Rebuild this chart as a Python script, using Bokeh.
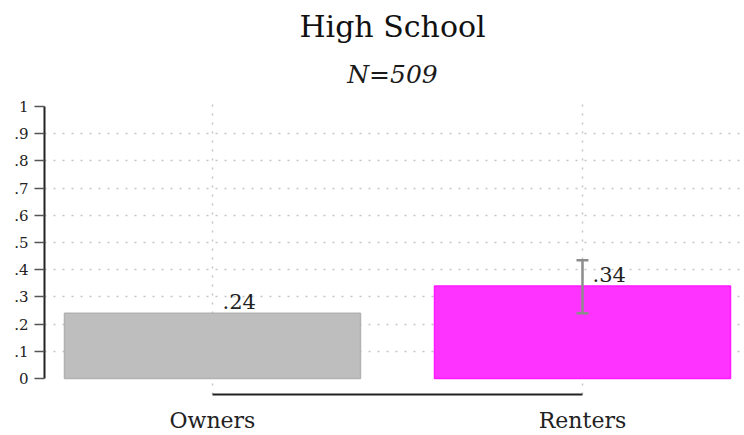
from bokeh.plotting import figure
from bokeh.models import (ColumnDataSource, FixedTicker, Title, Whisker, TeeHead,
                          Range1d, LabelSet)
from bokeh.core.properties import value
from bokeh.embed import file_html
from bokeh.resources import INLINE

# ---- data ----
categories = ["Owners", "Renters"]
xpos = [1, 2]
values = [0.24, 0.34]
bar_colors = ["#bebebe", "#ff33ff"]
bar_lines = ["#b2b2b2", "#ff1aff"]
ci_x = [2]
ci_lower = [0.24]
ci_upper = [0.435]
y_ticks = [0, 0.1, 0.2, 0.3, 0.4, 0.5, 0.6, 0.7, 0.8, 0.9, 1.0]
y_tick_labels = ["0", ".1", ".2", ".3", ".4", ".5", ".6", ".7", ".8", ".9", "1"]
title_text = "High School"
subtitle_text = "N=509"

FONT = "DejaVu Serif"

p = figure(width=742, height=435, output_backend="svg", toolbar_location=None,
           x_range=Range1d(0.546, 2.427), y_range=Range1d(-0.0586, 1.033),
           min_border_left=44, min_border_right=2, min_border_bottom=38,
           min_border_top=97, outline_line_color=None)
p.title = None

sub = Title(text=subtitle_text, align="center", text_font=FONT, text_font_size="25px",
            text_font_style="italic", text_color="#1a1a1a", standoff=17)
p.add_layout(sub, "above")
ttl = Title(text=title_text, align="center", text_font=FONT, text_font_size="30px",
            text_font_style="normal", text_color="#111111", standoff=12)
p.add_layout(ttl, "above")

src = ColumnDataSource(dict(x=xpos, top=values, color=bar_colors, line=bar_lines,
                            label=[("%.2f" % v).lstrip("0") for v in values]))
p.vbar(x="x", top="top", bottom=0, width=0.8, fill_color="color", line_color="line",
       line_width=1.5, source=src)

esrc = ColumnDataSource(dict(x=ci_x, lo=ci_lower, hi=ci_upper))
wh = Whisker(base="x", lower="lo", upper="hi", source=esrc, line_color="#8c8c8c",
             line_width=2.5, level="annotation",
             upper_head=TeeHead(size=12, line_color="#8c8c8c", line_width=2.5),
             lower_head=TeeHead(size=12, line_color="#8c8c8c", line_width=2.5))
p.add_layout(wh)

labels = LabelSet(x="x", y="top", text="label", source=src, x_offset=10, y_offset=4,
                  text_font=value(FONT), text_font_size=value("21px"),
                  text_color="#222222", text_align="left", text_baseline="bottom")
p.add_layout(labels)

# axes
ya = p.yaxis[0]
ya.ticker = FixedTicker(ticks=y_ticks)
ya.major_label_overrides = {t: l for t, l in zip(y_ticks, y_tick_labels)}
ya.bounds = (0, 1)
ya.major_tick_out = 10
ya.major_tick_in = 0
ya.minor_tick_out = 0
ya.minor_tick_in = 0
ya.axis_line_width = 2
ya.axis_line_color = "#222222"
ya.major_tick_line_color = "#555555"
ya.major_tick_line_width = 1.5
ya.major_label_text_font = FONT
ya.major_label_text_font_size = "15px"
ya.major_label_text_color = "#222222"
ya.major_label_standoff = 6

xa = p.xaxis[0]
xa.ticker = FixedTicker(ticks=xpos)
xa.major_label_overrides = {x: c for x, c in zip(xpos, categories)}
xa.bounds = (1, 2)
xa.major_tick_out = 0
xa.major_tick_in = 0
xa.minor_tick_out = 0
xa.minor_tick_in = 0
xa.axis_line_width = 2
xa.axis_line_color = "#222222"
xa.major_label_text_font = FONT
xa.major_label_text_font_size = "22px"
xa.major_label_text_color = "#222222"
xa.major_label_standoff = 13

p.ygrid[0].ticker = FixedTicker(ticks=y_ticks[1:-1])
p.ygrid[0].grid_line_color = "#c4c4c4"
p.ygrid[0].grid_line_dash = "2 7"
p.ygrid[0].grid_line_width = 1.5
p.xgrid[0].ticker = FixedTicker(ticks=xpos)
p.xgrid[0].grid_line_color = "#c4c4c4"
p.xgrid[0].grid_line_dash = "2 7"
p.xgrid[0].grid_line_width = 1.5

open("out.html", "w").write(file_html(p, INLINE))
